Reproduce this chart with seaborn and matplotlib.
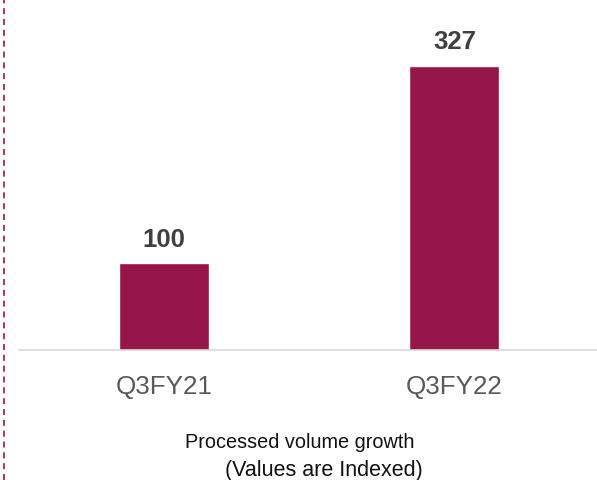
import matplotlib
matplotlib.use('Agg')
import matplotlib.pyplot as plt
import seaborn as sns
from matplotlib.lines import Line2D

# data
quarters = ['Q3FY21', 'Q3FY22']
values = [100, 327]
title_main = 'Processed volume growth'
title_sub = '(Values are Indexed)'

bar_color = '#96154A'

sns.set_style('white')
plt.rcParams['font.family'] = ['Liberation Sans', 'DejaVu Sans']

fig = plt.figure(figsize=(5.97, 4.81), dpi=100)
ax = fig.add_axes([0.0318, 0.2703, 0.968, 0.715])

sns.barplot(x=quarters, y=values, color=bar_color, width=0.31, saturation=1, ax=ax)

for i, v in enumerate(values):
    ax.annotate(f'{v}', (i, v), xytext=(0, 9), textcoords='offset points',
                ha='center', va='bottom', fontsize=18.5, fontweight='bold', color='#404040')

ax.set_xlim(-0.498, 1.49)
ax.set_ylim(0, 396)
ax.set_yticks([])
ax.set_xlabel('')
ax.set_ylabel('')
for s in ['top', 'right', 'left']:
    ax.spines[s].set_visible(False)
ax.spines['bottom'].set_color('#d9d9d9')
ax.spines['bottom'].set_linewidth(1.2)
ax.tick_params(axis='x', length=0, pad=17, labelsize=18.7, labelcolor='#595959')

fig.text(0.502, 0.081, title_main, ha='center', va='center', fontsize=14.3, color='#111111')
fig.text(0.542, 0.021, title_sub, ha='center', va='center', fontsize=15.5, color='#111111')

# dashed divider at left edge
fig.add_artist(Line2D([0.0067, 0.0067], [0, 1], transform=fig.transFigure,
                      color='#96154A', linewidth=1.2, dashes=(3.6, 2.9)))

fig.savefig('out.png', dpi=100)
